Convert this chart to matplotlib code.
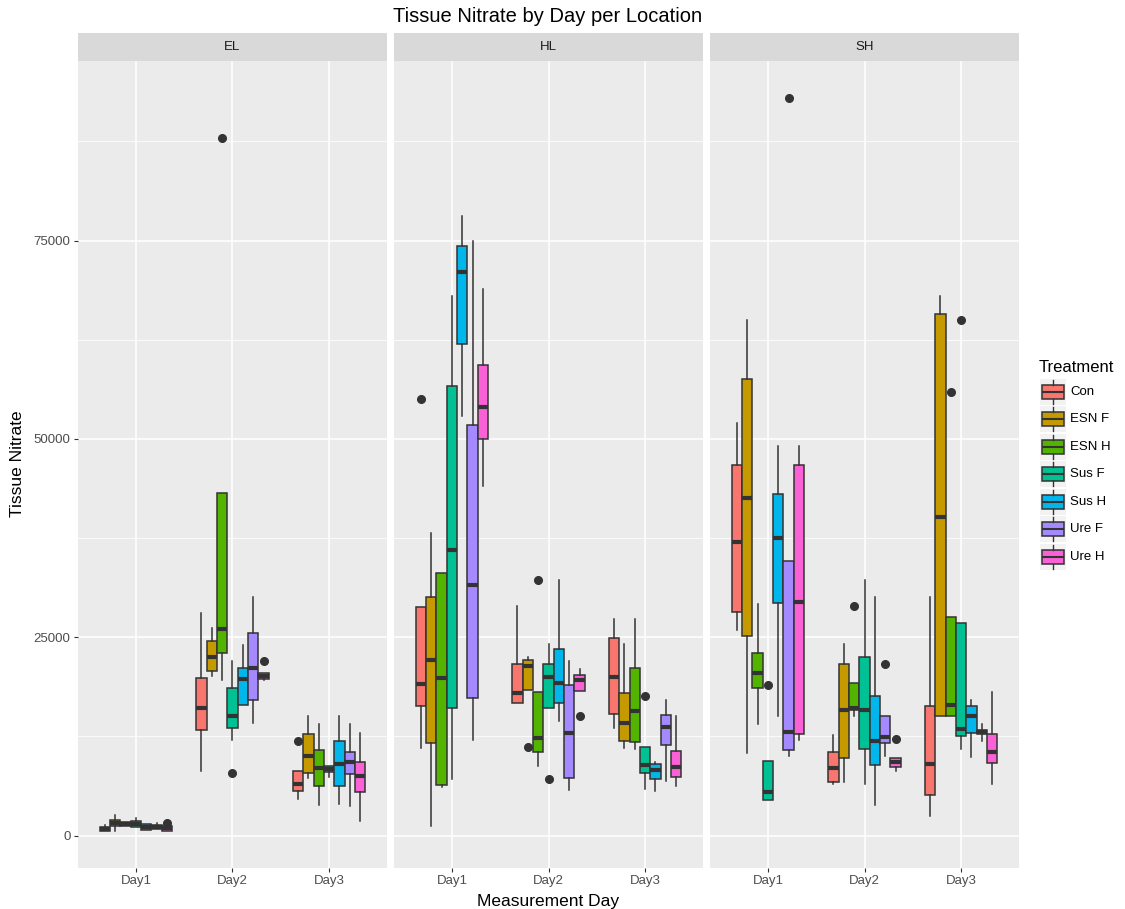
import matplotlib
matplotlib.use('Agg')
import matplotlib.pyplot as plt
from matplotlib.patches import Rectangle
from matplotlib.ticker import FixedLocator

plt.rcParams['font.family'] = ['Liberation Sans', 'DejaVu Sans']

locations = ['EL', 'HL', 'SH']
days = ['Day1', 'Day2', 'Day3']
treatments = ['Con', 'ESN F', 'ESN H', 'Sus F', 'Sus H', 'Ure F', 'Ure H']
colors = ['#F8766D', '#C49A00', '#53B400', '#00C094', '#00B6EB', '#A58AFF', '#FB61D7']

# box summaries per location: one row per day, one column per treatment
el_low = [[550, 630, 1250, 1100, 700, 840, 630],
          [8150, 20180, 19580, 12020, 16490, 14230, 19580],
          [4680, 7210, 3920, 7420, 4050, 3710, 1810]]
el_q1 = [[550, 1200, 1250, 1100, 700, 840, 630],
         [13330, 20770, 23030, 13510, 16490, 17080, 19760],
         [5690, 7920, 6320, 7970, 6320, 7760, 5520]]
el_med = [[840, 1650, 1500, 1500, 1050, 1100, 950],
          [16130, 22560, 26010, 15120, 19760, 21070, 20180],
          [6490, 9990, 8470, 8390, 8980, 9230, 7460]]
el_q3 = [[1140, 2000, 1700, 1850, 1450, 1390, 1260],
         [19880, 24520, 43150, 18570, 21070, 25530, 20530],
         [8180, 12770, 10830, 8810, 11930, 10540, 9270]]
el_high = [[1390, 2650, 1700, 2200, 1450, 1560, 1260],
           [28100, 26130, 43150, 22020, 24050, 30060, 20530],
           [8180, 15050, 14080, 8810, 15050, 14080, 12980]]
el_outliers = [('Day1', 'Ure H', 1600), ('Day2', 'ESN H', 87970), ('Day2', 'Sus F', 7860),
               ('Day2', 'Ure H', 22020), ('Day3', 'Con', 11970)]

hl_low = [[10990, 1280, 6160, 7190, 52910, 12070, 44020],
          [16740, 18350, 8770, 16140, 14490, 5800, 18180],
          [13520, 11020, 10890, 5930, 5680, 6860, 6230]]
hl_q1 = [[16390, 11660, 6370, 16130, 61950, 17310, 50030],
         [16740, 18350, 10590, 16140, 16740, 7250, 18180],
         [15300, 11990, 11860, 7920, 7080, 11400, 7370]]
hl_med = [[19110, 22090, 19880, 36010, 70990, 31590, 54040],
          [18010, 21400, 12370, 20040, 19240, 12880, 19570],
          [20040, 14150, 15760, 8860, 8220, 13690, 8600]]
hl_q3 = [[28770, 30050, 33080, 56710, 74330, 51730, 59280],
         [21690, 22160, 18130, 21690, 23560, 18940, 20250],
         [24870, 18010, 21190, 11230, 8980, 15170, 10720]]
hl_high = [[28770, 38120, 33080, 67960, 78030, 75000, 68940],
           [28900, 22460, 18130, 24110, 32200, 22030, 20970],
           [27290, 24110, 27290, 11230, 9320, 17120, 15040]]
hl_outliers = [('Day1', 'Con', 55020), ('Day2', 'ESN F', 11230), ('Day2', 'ESN H', 32160),
               ('Day2', 'Sus F', 7080), ('Day2', 'Ure H', 15040), ('Day3', 'Sus F', 17580)]

sh_low = [[25970, 10390, 14050, 4520, 15090, 10020, 12040],
          [6570, 6780, 15130, 6570, 3810, 10080, 8180],
          [2540, 15040, 15040, 10890, 9870, 11950, 6570]]
sh_q1 = [[28230, 25170, 18570, 4520, 29270, 10810, 12830],
         [6780, 9750, 15850, 10890, 8860, 11690, 8690],
         [5170, 15040, 15040, 12500, 12920, 12800, 9110]]
sh_med = [[37030, 42530, 20470, 5500, 37520, 13080, 29450],
          [8470, 15850, 16100, 15850, 11910, 12460, 9320],
          [9020, 40170, 16520, 13470, 15040, 13050, 10510]]
sh_q3 = [[46680, 57560, 23030, 9410, 43080, 34640, 46680],
         [10590, 21690, 19280, 22460, 17580, 15040, 9750],
         [16400, 65710, 27540, 26780, 16310, 13350, 12800]]
sh_high = [[52060, 65010, 29140, 9410, 49120, 34640, 49120],
           [12710, 24150, 19280, 32200, 30080, 15040, 9750],
           [30080, 68030, 27540, 26780, 17160, 14110, 18090]]
sh_outliers = [('Day1', 'Sus F', 19000), ('Day1', 'Ure F', 93000), ('Day2', 'ESN H', 28980),
               ('Day2', 'Ure F', 21690), ('Day2', 'Ure H', 12200), ('Day3', 'ESN H', 55930),
               ('Day3', 'Sus F', 64960)]

panels = {
    'EL': (el_low, el_q1, el_med, el_q3, el_high, el_outliers),
    'HL': (hl_low, hl_q1, hl_med, hl_q3, hl_high, hl_outliers),
    'SH': (sh_low, sh_q1, sh_med, sh_q3, sh_high, sh_outliers),
}

W, H = 1125, 909
fig = plt.figure(figsize=(W / 100, H / 100), dpi=100)


def px_axes(x0, y0, x1, y1):
    return fig.add_axes([x0 / W, 1 - y1 / H, (x1 - x0) / W, (y1 - y0) / H])


# shared y range with 5% padding like ggplot
all_vals = []
for low, q1, med, q3, high, outs in panels.values():
    for row in low + high:
        all_vals += row
    all_vals += [o[2] for o in outs]
ymin, ymax = min(all_vals), max(all_vals)
pad = 0.05 * (ymax - ymin)

dodge = 0.75 / len(treatments)
panel_left = [78, 394, 710]
panel_w = 309
panel_top, panel_bottom = 61, 868

for i, loc in enumerate(locations):
    low, q1, med, q3, high, outs = panels[loc]
    ax = px_axes(panel_left[i], panel_top, panel_left[i] + panel_w, panel_bottom)
    ax.set_facecolor('#EBEBEB')
    for s in ax.spines.values():
        s.set_visible(False)
    ax.set_axisbelow(True)

    stats, pos = [], []
    for d, day in enumerate(days):
        for t, trt in enumerate(treatments):
            fl = [o[2] for o in outs if o[0] == day and o[1] == trt]
            stats.append(dict(med=med[d][t], q1=q1[d][t], q3=q3[d][t],
                              whislo=low[d][t], whishi=high[d][t], fliers=fl))
            pos.append(d + 1 + (t - 3) * dodge)

    res = ax.bxp(stats, positions=pos, widths=dodge, patch_artist=True, showcaps=False,
                 manage_ticks=False,
                 boxprops=dict(edgecolor='#333333', linewidth=1.1),
                 whiskerprops=dict(color='#333333', linewidth=1.1),
                 medianprops=dict(color='#333333', linewidth=3, solid_capstyle='butt'),
                 flierprops=dict(marker='o', markerfacecolor='#333333',
                                 markeredgecolor='#333333', markersize=5.5, linestyle='none'))
    for k, box in enumerate(res['boxes']):
        box.set_facecolor(colors[k % len(treatments)])

    ax.set_xlim(0.4, 3.6)
    ax.set_ylim(ymin - pad, ymax + pad)
    ax.set_xticks([1, 2, 3], days)
    ax.yaxis.set_major_locator(FixedLocator([0, 25000, 50000, 75000]))
    ax.yaxis.set_minor_locator(FixedLocator([12500, 37500, 62500, 87500]))
    ax.grid(which='major', color='white', linewidth=1.1)
    ax.grid(which='minor', axis='y', color='white', linewidth=0.55)
    ax.tick_params(axis='both', colors='#333333', labelcolor='#4D4D4D',
                   length=2.8, width=0.8, labelsize=9.5, pad=2.5)
    ax.tick_params(which='minor', length=0)
    if i > 0:
        ax.tick_params(axis='y', left=False, labelleft=False)

    # facet strip
    sax = px_axes(panel_left[i], 33, panel_left[i] + panel_w, panel_top)
    sax.set_facecolor('#D9D9D9')
    sax.set_xticks([])
    sax.set_yticks([])
    for s in sax.spines.values():
        s.set_visible(False)
    sax.text(0.5, 0.5, loc, ha='center', va='center', fontsize=9.5, color='#1A1A1A',
             transform=sax.transAxes)

fig.text(548 / W, 1 - 22.5 / H, 'Tissue Nitrate by Day per Location',
         ha='center', va='baseline', fontsize=14.5)
fig.text(548 / W, 1 - 906 / H, 'Measurement Day', ha='center', va='baseline', fontsize=12.5)
fig.text(18 / W, 1 - 464 / H, 'Tissue Nitrate', rotation=90, ha='center', va='center',
         fontsize=12.5)

# legend drawn in pixel coordinates
lax = fig.add_axes([0, 0, 1, 1])
lax.set_xlim(0, W)
lax.set_ylim(H, 0)
lax.axis('off')
lax.text(1039, 371.5, 'Treatment', ha='left', va='baseline', fontsize=12)
for k, (trt, col) in enumerate(zip(treatments, colors)):
    cy = 391.7 + k * 27.5
    lax.add_patch(Rectangle((1040, cy - 13), 26, 26, facecolor='#F2F2F2', edgecolor='none'))
    lax.plot([1053, 1053], [cy - 12, cy - 7], color='#333333', lw=1.0)
    lax.plot([1053, 1053], [cy + 7, cy + 12], color='#333333', lw=1.0)
    lax.add_patch(Rectangle((1042, cy - 7), 22, 14, facecolor=col, edgecolor='#333333', lw=1.1))
    lax.plot([1042, 1064], [cy, cy], color='#333333', lw=1.5, solid_capstyle='butt')
    lax.text(1070, cy, trt, ha='left', va='center', fontsize=9.5)

fig.savefig('out.png', dpi=100)
